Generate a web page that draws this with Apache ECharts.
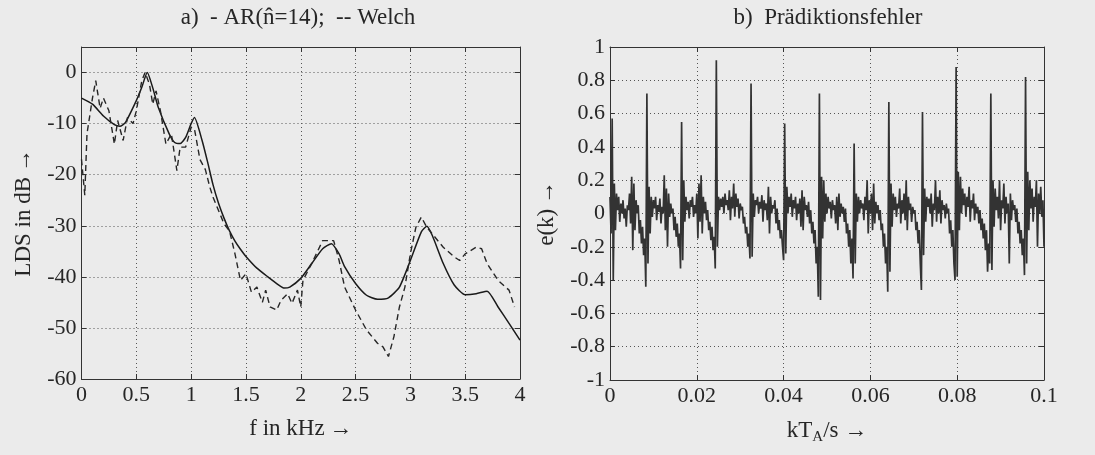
<!DOCTYPE html>
<html>
<head>
<meta charset="utf-8">
<script src="https://cdn.jsdelivr.net/npm/echarts@6/dist/echarts.min.js"></script>
<style>
html,body{margin:0;padding:0;background:#ebebeb;}
#chart{width:1095px;height:455px;}
</style>
</head>
<body>
<div id="chart"></div>
<script>
// ---- Panel a) spectra ----
const arFreq = [0,0.1,0.2,0.3,0.35,0.4,0.5,0.55,0.6,0.65,0.7,0.8,0.85,0.9,0.95,1.0,1.03,1.1,1.15,1.2,1.25,1.3,1.35,1.4,1.45,1.5,1.6,1.7,1.8,1.85,1.9,2.0,2.1,2.2,2.28,2.35,2.4,2.5,2.6,2.7,2.8,2.9,3.0,3.1,3.15,3.2,3.3,3.4,3.5,3.6,3.7,3.8,3.9,4.0];
const arDb   = [-5.0,-6.2,-8.5,-10.2,-10.5,-9.8,-5.5,-2.9,0,-3,-6.8,-12,-13.7,-13.9,-12.7,-10,-8.8,-13.3,-17.5,-22,-25.6,-28.5,-31,-33,-34.6,-36,-38.3,-40,-41.6,-42.2,-42,-40.3,-37.4,-34.5,-33.5,-35.5,-38,-41.3,-43.6,-44.4,-44.1,-42,-36.8,-31.2,-30.1,-31.9,-37.4,-41.6,-43.5,-43.3,-42.8,-45.9,-49.1,-52.4];

const welchFreq = [0,0.03,0.05,0.1,0.13,0.17,0.2,0.25,0.3,0.33,0.38,0.42,0.47,0.5,0.55,0.58,0.62,0.65,0.68,0.72,0.77,0.82,0.87,0.9,0.95,1.0,1.03,1.08,1.13,1.17,1.2,1.3,1.35,1.4,1.45,1.5,1.55,1.6,1.65,1.68,1.72,1.78,1.82,1.88,1.92,1.97,2.0,2.02,2.1,2.2,2.3,2.35,2.4,2.5,2.6,2.7,2.75,2.8,2.85,2.9,2.95,3.0,3.05,3.1,3.15,3.2,3.3,3.4,3.45,3.5,3.6,3.65,3.7,3.8,3.9,3.95];
const welchDb   = [-17,-24,-12,-5,-1.6,-7,-5,-7.5,-14,-9.4,-13.3,-8.8,-10,-7.5,-1.6,0,-2.3,-6.2,-3.6,-7.5,-14,-12,-19.2,-14.6,-14.6,-10.7,-11,-17,-19,-22.4,-24.4,-29.6,-31,-35.5,-40.7,-39.4,-43,-42,-45,-42.6,-45.9,-46.5,-44.6,-43.3,-45.2,-42.6,-45.9,-40.7,-37.4,-32.9,-32.9,-36.8,-42,-46.5,-50.4,-53,-53.7,-55.6,-51.7,-45.9,-42,-35.5,-30.3,-28.3,-30.3,-31.6,-34.2,-36.1,-36.8,-35.5,-34.2,-34.5,-37.4,-40.7,-42.6,-45.9];

// ---- Panel b) prediction error, sample step in seconds ----
const sampleStep = 0.00025;
const errValues = [
0.1,-0.12,
0.57,-0.40,0.18,-0.1,0.12,0.02,0.1,-0.05,0.06,0.0,0.08,-0.03,0.03,-0.08,0.05,0.02,0.12,-0.06,0.22,-0.22,0.18,-0.1,0.08,0.0,0.05,-0.12,-0.04,-0.18,-0.08,-0.25,-0.15,-0.44,
0.72,-0.3,0.16,-0.12,0.1,-0.02,0.08,0.03,0.1,-0.04,0.05,0.01,0.09,-0.06,0.04,0.0,0.23,-0.1,0.15,-0.2,0.12,-0.02,0.06,0.0,0.03,-0.1,-0.02,-0.14,-0.06,-0.2,-0.12,-0.33,
0.55,-0.28,0.2,-0.05,0.1,0.02,0.07,-0.03,0.08,0.04,0.1,-0.02,0.05,0.0,0.12,-0.15,0.18,-0.05,0.23,-0.12,0.1,0.0,0.07,-0.04,0.02,-0.1,-0.05,-0.16,-0.08,-0.22,-0.14,-0.33,
0.92,-0.2,0.1,0.02,0.09,0.04,0.1,0.0,0.12,0.05,0.08,0.02,0.14,-0.04,0.1,0.03,0.18,-0.02,0.12,0.04,0.09,-0.03,0.06,0.02,0.04,-0.06,-0.02,-0.12,-0.08,-0.2,-0.12,-0.27,
0.78,-0.26,0.12,-0.02,0.08,0.05,0.1,0.0,0.07,0.03,0.11,-0.05,0.08,0.02,0.06,-0.04,0.16,-0.12,0.1,0.0,0.05,0.03,0.08,-0.06,0.03,-0.1,-0.04,-0.15,-0.1,-0.2,-0.28,
0.54,-0.24,0.16,0.0,0.1,0.04,0.12,-0.02,0.08,0.03,0.1,-0.04,0.06,0.0,0.09,-0.08,0.14,-0.1,0.1,0.02,0.05,-0.02,0.07,-0.06,0.02,-0.12,-0.05,-0.18,-0.1,-0.3,-0.2,-0.50,
0.72,-0.52,0.22,-0.15,0.2,-0.05,0.12,0.0,0.1,0.03,0.07,-0.03,0.08,0.02,0.05,-0.06,0.1,-0.1,0.12,-0.02,0.06,0.0,0.04,-0.05,0.03,-0.12,-0.06,-0.2,-0.1,-0.3,-0.15,-0.39,
0.42,-0.3,0.12,-0.05,0.1,0.0,0.08,0.03,0.06,-0.04,0.1,0.02,0.2,-0.12,0.08,0.0,0.12,-0.1,0.18,-0.06,0.07,0.0,0.05,-0.04,0.02,-0.1,-0.06,-0.2,-0.12,-0.3,-0.2,-0.47,
0.67,-0.35,0.18,-0.08,0.12,0.02,0.1,-0.02,0.06,0.03,0.15,-0.06,0.08,0.0,0.12,-0.04,0.2,-0.1,0.1,0.02,0.06,-0.05,0.04,0.0,0.02,-0.1,-0.05,-0.18,-0.1,-0.3,-0.46,
0.61,-0.25,0.15,-0.05,0.1,0.04,0.09,0.0,0.12,-0.08,0.06,0.02,0.2,-0.05,0.1,0.0,0.14,-0.06,0.08,0.02,0.05,-0.03,0.06,0.0,0.03,-0.12,-0.04,-0.2,-0.1,-0.3,-0.4,
0.88,-0.38,0.25,-0.1,0.22,0.0,0.15,0.05,0.12,-0.02,0.1,0.04,0.16,-0.05,0.08,0.03,0.12,-0.04,0.06,0.0,0.04,-0.06,0.02,-0.1,-0.03,-0.15,-0.06,-0.22,-0.1,-0.35,-0.18,-0.3,
0.72,-0.34,0.2,-0.08,0.15,0.02,0.1,-0.03,0.2,-0.1,0.08,0.03,0.18,-0.06,0.1,0.0,0.06,-0.3,0.12,-0.04,0.08,0.02,0.05,-0.05,0.03,-0.12,-0.05,-0.18,-0.1,-0.25,-0.15,-0.37,
0.82,-0.3,0.25,-0.1,0.2,0.03,0.15,-0.05,0.1,0.04,0.2,-0.2,0.12,0.0,0.16,-0.02,0.08,-0.2
];

const titleA = 'a)  - AR(n\u0302=14);  -- Welch';
const titleB = 'b)  Prädiktionsfehler';

const FONT = 'Liberation Serif';
const TXT = '#262626';
const FS = 22;
const FS_NAME = 23;

function mainAxisCommon(){
  return {
    axisLine:{show:true,onZero:false,lineStyle:{color:'#333',width:1}},
    axisTick:{show:true,inside:true,length:5,lineStyle:{color:'#333'}},
    axisLabel:{color:TXT,fontFamily:FONT,fontSize:FS,margin:5},
    splitLine:{show:true,lineStyle:{color:'#555',type:[1,3],width:1}},
    nameTextStyle:{color:TXT,fontFamily:FONT,fontSize:FS_NAME}
  };
}
function frameAxis(extra){
  return Object.assign({
    axisLine:{show:true,onZero:false,lineStyle:{color:'#333',width:1}},
    axisTick:{show:true,inside:true,length:5,lineStyle:{color:'#333'}},
    axisLabel:{show:false},
    splitLine:{show:false}
  }, extra);
}

const chart = echarts.init(document.getElementById('chart'), null, {renderer:'canvas'});
const option = {
  backgroundColor:'#ebebeb',
  animation:false,
  grid:[
    {left:81.5, top:47, width:438.5, height:332},
    {left:610, top:47, width:434, height:333}
  ],
  xAxis:[
    Object.assign(mainAxisCommon(),{type:'value',gridIndex:0,min:0,max:4,interval:0.5,
      name:'f in kHz\u2009\u2192',nameLocation:'middle',nameGap:38}),
    Object.assign(mainAxisCommon(),{type:'value',gridIndex:1,min:0,max:0.1,interval:0.02,
      name:'{m|kT}{s|A}{m|/s \u2192}',nameLocation:'middle',nameGap:36,
      nameTextStyle:{rich:{m:{fontFamily:FONT,fontSize:FS_NAME,color:TXT},s:{fontFamily:FONT,fontSize:15,color:TXT,verticalAlign:'bottom',padding:[14,0,0,0]}}}}),
    frameAxis({type:'value',gridIndex:0,min:0,max:4,interval:0.5,position:'top'}),
    frameAxis({type:'value',gridIndex:1,min:0,max:0.1,interval:0.02,position:'top'})
  ],
  yAxis:[
    Object.assign(mainAxisCommon(),{type:'value',gridIndex:0,min:-60,max:5,interval:10,
      axisLabel:{color:TXT,fontFamily:FONT,fontSize:FS,margin:5,formatter:v=> v>0 ? '' : String(v)},
      name:'LDS in dB\u2009\u2192',nameLocation:'middle',nameGap:46,nameRotate:90}),
    Object.assign(mainAxisCommon(),{type:'value',gridIndex:1,min:-1,max:1,interval:0.2,
      name:'e(k)\u2009\u2192',nameLocation:'middle',nameGap:52,nameRotate:90}),
    frameAxis({type:'value',gridIndex:0,min:-60,max:5,interval:10,position:'right'}),
    frameAxis({type:'value',gridIndex:1,min:-1,max:1,interval:0.2,position:'right'})
  ],
  graphic:[
    {type:'text',x:298,y:18,style:{text:titleA,font:'23px "'+FONT+'"',fill:TXT,textAlign:'center',textVerticalAlign:'middle'}},
    {type:'text',x:828,y:18,style:{text:titleB,font:'23px "'+FONT+'"',fill:TXT,textAlign:'center',textVerticalAlign:'middle'}}
  ],
  series:[
    {type:'line',name:'AR',xAxisIndex:0,yAxisIndex:0,showSymbol:false,smooth:0.2,
      data:arFreq.map((f,i)=>[f,arDb[i]]),lineStyle:{color:'#1a1a1a',width:1.5},z:3},
    {type:'line',name:'Welch',xAxisIndex:0,yAxisIndex:0,showSymbol:false,
      data:welchFreq.map((f,i)=>[f,welchDb[i]]),lineStyle:{color:'#262626',width:1.4,type:[6,4]},z:3},
    {type:'line',name:'e(k)',xAxisIndex:1,yAxisIndex:1,showSymbol:false,sampling:null,
      data:errValues.map((v,i)=>[i*sampleStep,v]),lineStyle:{color:'#333',width:1.7},z:3}
  ]
};
chart.setOption(option);
</script>
</body>
</html>
